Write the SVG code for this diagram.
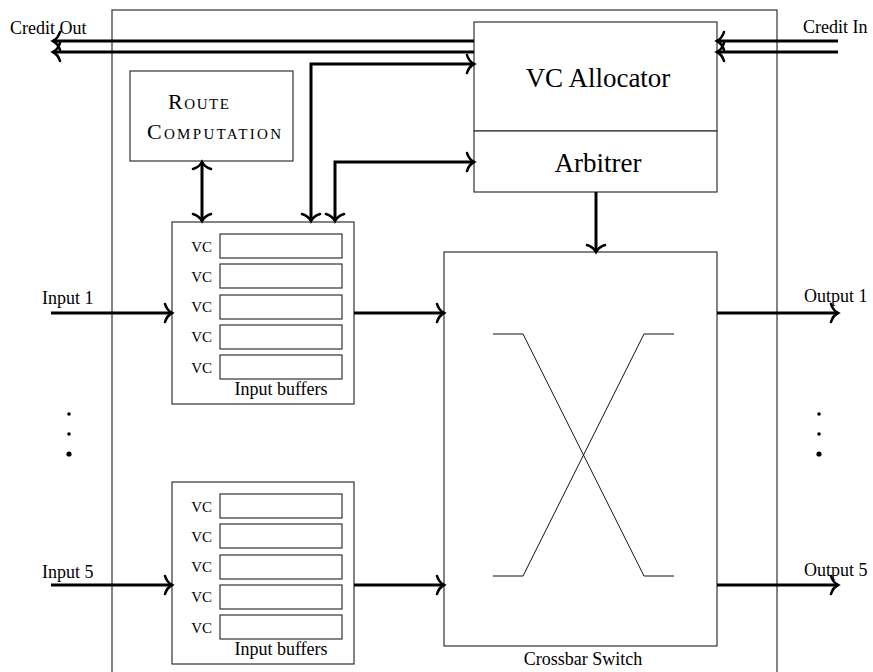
<svg xmlns="http://www.w3.org/2000/svg" width="873" height="672" viewBox="0 0 873 672">
<style>
.box{fill:#fff;stroke:#333;stroke-width:1.2}
.thin{fill:none;stroke:#111;stroke-width:1}
.arr{fill:none;stroke:#000;stroke-width:3;marker-end:url(#to)}
.arr2{fill:none;stroke:#000;stroke-width:3;marker-end:url(#to);marker-start:url(#to)}
text{font-family:"Liberation Serif","Times New Roman",serif;fill:#000}
.lbl{font-size:18px}
.big{font-size:27px;text-anchor:middle}
.vc{font-size:21px;font-variant:small-caps;text-anchor:end}
.sc{font-size:22px;font-variant:small-caps}
</style>
<defs>
<marker id="to" markerUnits="userSpaceOnUse" viewBox="-10 -12 14 24" refX="0" refY="0" markerWidth="14" markerHeight="24" orient="auto-start-reverse" overflow="visible">
<path d="M-7,-9 C-5.5,-4 -1.5,-0.8 0,0 C-1.5,0.8 -5.5,4 -7,9" fill="none" stroke="#000" stroke-width="2.6" stroke-linecap="round"/>
</marker>
</defs>
<rect width="873" height="672" fill="#fff"/>
<g id="router">
<rect class="box" x="112" y="10" width="665" height="680" fill="none"/>
</g>
<g id="vc-allocator">
<rect class="box" x="474" y="22" width="243" height="109"/>
<text class="big" x="598" y="87">VC Allocator</text>
</g>
<g id="arbitrer">
<rect class="box" x="474" y="131" width="243" height="61"/>
<text class="big" x="598" y="172">Arbitrer</text>
</g>
<g id="route-computation">
<rect class="box" x="130" y="71" width="163" height="90"/>
<text class="sc" x="168" y="109" textLength="61">Route</text>
<text class="sc" x="147" y="139" textLength="134">Computation</text>
</g>
<g id="input-buffers-1">
<rect class="box" x="172" y="222" width="182" height="182"/>
<rect class="box" x="220" y="234" width="122" height="24"/>
<rect class="box" x="220" y="264" width="122" height="24"/>
<rect class="box" x="220" y="295" width="122" height="24"/>
<rect class="box" x="220" y="325" width="122" height="24"/>
<rect class="box" x="220" y="355" width="122" height="24"/>
<text class="vc" x="212" y="252">vc</text>
<text class="vc" x="212" y="282">vc</text>
<text class="vc" x="212" y="312">vc</text>
<text class="vc" x="212" y="342">vc</text>
<text class="vc" x="212" y="373">vc</text>
<text class="lbl" x="281" y="395" text-anchor="middle">Input buffers</text>
</g>
<g id="input-buffers-5">
<rect class="box" x="172" y="482" width="182" height="182"/>
<rect class="box" x="220" y="494" width="122" height="24"/>
<rect class="box" x="220" y="524" width="122" height="24"/>
<rect class="box" x="220" y="555" width="122" height="24"/>
<rect class="box" x="220" y="585" width="122" height="24"/>
<rect class="box" x="220" y="615" width="122" height="24"/>
<text class="vc" x="212" y="512">vc</text>
<text class="vc" x="212" y="542">vc</text>
<text class="vc" x="212" y="572">vc</text>
<text class="vc" x="212" y="602">vc</text>
<text class="vc" x="212" y="633">vc</text>
<text class="lbl" x="281" y="655" text-anchor="middle">Input buffers</text>
</g>
<g id="crossbar">
<rect class="box" x="444" y="252" width="273" height="394"/>
<path class="thin" d="M493,334 H523 L644,576 H674"/>
<path class="thin" d="M674,334 H644 L523,576 H493"/>
<text class="lbl" x="583" y="665" text-anchor="middle">Crossbar Switch</text>
</g>
<g id="labels">
<text class="lbl" x="10" y="34">Credit Out</text>
<text class="lbl" x="803" y="33">Credit In</text>
<text class="lbl" x="42" y="304">Input 1</text>
<text class="lbl" x="42" y="578">Input 5</text>
<text class="lbl" x="804" y="302">Output 1</text>
<text class="lbl" x="804" y="576">Output 5</text>
</g>
<g id="ellipsis">
<circle cx="69" cy="414" r="1.8"/>
<circle cx="69" cy="434" r="1.8"/>
<circle cx="69" cy="454" r="2.6"/>
<circle cx="819" cy="414" r="1.8"/>
<circle cx="819" cy="434" r="1.8"/>
<circle cx="819" cy="454" r="2.6"/>
</g>
<g id="connectors">
<path class="arr" d="M474,41 H53"/>
<path class="arr" d="M474,52 H53"/>
<path class="arr" d="M838,41 H717"/>
<path class="arr" d="M838,52 H717"/>
<path class="arr2" d="M202,162 V221"/>
<path class="arr2" d="M474,64 H311 V221"/>
<path class="arr2" d="M474,162 H335 V221"/>
<path class="arr" d="M596,192 V252"/>
<path class="arr" d="M51,313 H172"/>
<path class="arr" d="M354,313 H444"/>
<path class="arr" d="M717,313 H838"/>
<path class="arr" d="M51,585 H172"/>
<path class="arr" d="M354,585 H444"/>
<path class="arr" d="M717,585 H838"/>
</g>
</svg>
